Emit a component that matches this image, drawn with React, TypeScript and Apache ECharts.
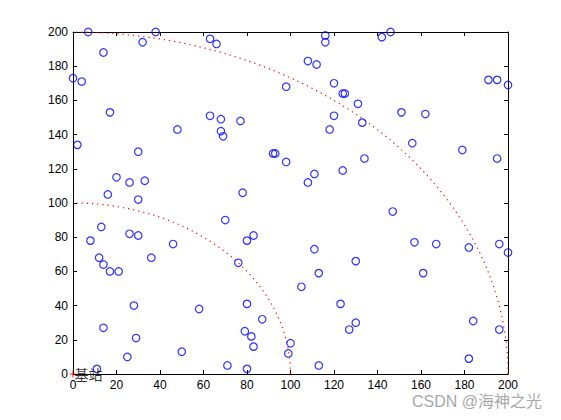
import React, { useEffect, useRef } from "react";
import * as echarts from "echarts";

// Blue circle positions (x, y)
const POINTS_X = [
  7, 14, 38, 32, 0, 4, 17, 2, 30, 20, 26, 33, 16, 30, 48, 63, 66, 63, 68, 68, 69, 77, 78, 92, 93,
  116, 116, 142, 146, 108, 112, 98, 120, 124, 125, 131, 120, 133, 118, 151, 162, 191, 195, 200, 156, 179, 195, 98, 111, 108, 124, 134,
  8, 13, 12, 14, 17, 21, 26, 30, 36, 46, 70, 76, 80, 83, 28, 14, 29, 25, 11, 58, 50, 71, 80, 80, 79, 82, 83, 87,
  147, 157, 167, 182, 196, 200, 161, 111, 130, 113, 105, 123, 130, 127, 184, 196, 100, 99, 113, 182,
];
const POINTS_Y = [
  200, 188, 200, 194, 173, 171, 153, 134, 130, 115, 112, 113, 105, 102, 143, 196, 193, 151, 149, 142, 139, 148, 106, 129, 129,
  198, 194, 197, 200, 183, 181, 168, 170, 164, 164, 158, 151, 147, 143, 153, 152, 172, 172, 169, 135, 131, 126, 124, 117, 112, 119, 126,
  78, 86, 68, 64, 60, 60, 82, 81, 68, 76, 90, 65, 78, 81, 40, 27, 21, 10, 3, 38, 13, 5, 3, 41, 25, 22, 16, 32,
  95, 77, 76, 74, 76, 71, 59, 73, 66, 59, 51, 41, 30, 26, 31, 26, 18, 12, 5, 9,
];

// Coverage circles (radius) around the base station
const RADII = [100, 200];
const STATION = [0, 0];
const STATION_LABEL = "基站";

const AXIS_MIN = 0;
const AXIS_MAX = 200;
const AXIS_STEP = 20;

export default function App() {
  const ref = useRef<HTMLDivElement>(null);

  useEffect(() => {
    if (!ref.current) return;
    const chart = echarts.init(ref.current, undefined, { renderer: "svg" });

    const points = POINTS_X.map((x, i) => [x, POINTS_Y[i]]);
    const font = "Liberation Sans, Arial, sans-serif";

    const mainAxis = (pos: string) => ({
      type: "value",
      position: pos,
      min: AXIS_MIN,
      max: AXIS_MAX,
      interval: AXIS_STEP,
      axisLine: { show: true, onZero: false, lineStyle: { color: "#000", width: 1 } },
      axisTick: { show: true, inside: true, length: 4, lineStyle: { color: "#000" } },
      axisLabel: { color: "#000", fontSize: 12, fontFamily: font, margin: 5 },
      splitLine: { show: false },
    });
    const mirrorAxis = (pos: string) => ({
      type: "value",
      position: pos,
      min: AXIS_MIN,
      max: AXIS_MAX,
      interval: AXIS_STEP,
      axisLine: { show: true, onZero: false, lineStyle: { color: "#000", width: 1 } },
      axisTick: { show: true, inside: true, length: 4, lineStyle: { color: "#000" } },
      axisLabel: { show: false },
      splitLine: { show: false },
    });

    chart.setOption({
      animation: false,
      backgroundColor: "#fff",
      grid: { left: 73, top: 32, right: 53, bottom: 46, containLabel: false },
      xAxis: [mainAxis("bottom"), mirrorAxis("top")],
      yAxis: [mainAxis("left"), mirrorAxis("right")],
      series: [
        {
          type: "custom",
          xAxisIndex: 0,
          yAxisIndex: 0,
          clip: false,
          silent: true,
          data: RADII.map((r) => [r]),
          renderItem: (params: any, api: any) => {
            const r = api.value(0);
            const pts: number[][] = [];
            const n = 120;
            for (let k = 0; k <= n; k++) {
              const t = (Math.PI / 2) * (k / n);
              pts.push(api.coord([r * Math.cos(t), r * Math.sin(t)]));
            }
            return {
              type: "polyline",
              shape: { points: pts },
              style: { stroke: "#ff0000", fill: null, lineWidth: 1.2, lineDash: [1.2, 4] },
            };
          },
        },
        {
          type: "scatter",
          clip: false,
          data: points,
          symbol: "circle",
          symbolSize: 7.5,
          itemStyle: { color: "transparent", borderColor: "#0000ff", borderWidth: 1.2 },
        },
        {
          type: "scatter",
          clip: false,
          data: [STATION],
          symbol: "path://M0,2.5H6V3.5H0Z M2.5,0H3.5V6H2.5Z",
          symbolSize: 7,
          itemStyle: { color: "#ff0000" },
          z: 5,
        },
        {
          type: "scatter",
          clip: false,
          data: [STATION],
          symbol: "circle",
          symbolSize: 1,
          itemStyle: { color: "transparent" },
          label: {
            show: true,
            formatter: STATION_LABEL,
            position: "right",
            distance: 1,
            color: "#000",
            fontSize: 14,
            fontFamily: "Noto Sans CJK SC",
          },
          labelLayout: { hideOverlap: false },
          z: 6,
        },
      ],
      graphic: [
        {
          type: "text",
          x: 477,
          y: 401,
          style: {
            text: "CSDN @海神之光",
            fontSize: 16,
            fontFamily: "Liberation Sans, Noto Sans CJK SC, sans-serif",
            fill: "#a8a8a8",
            align: "center",
            verticalAlign: "middle",
          },
        },
      ],
    });

    return () => chart.dispose();
  }, []);

  return (
    <div
      ref={ref}
      style={{ position: "fixed", left: 0, top: 0, width: 561, height: 420, background: "#fff" }}
    />
  );
}
